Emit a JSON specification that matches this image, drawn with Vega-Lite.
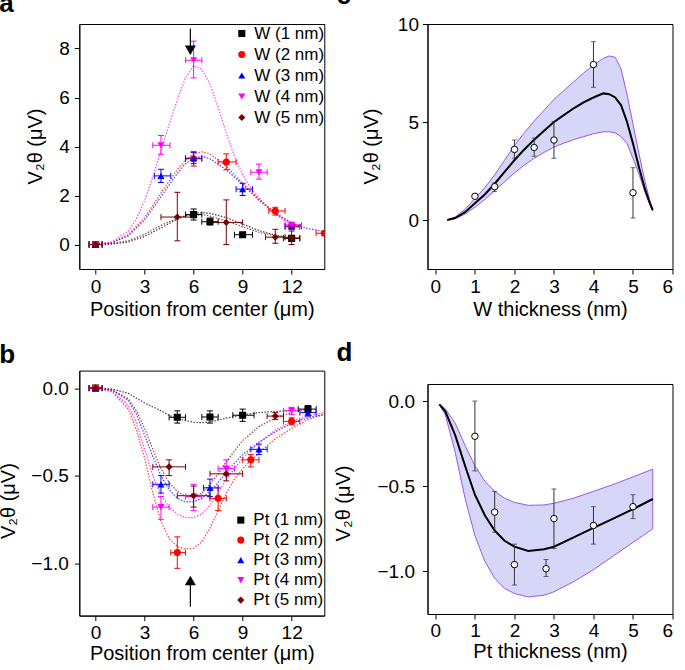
{
  "$schema": "https://vega.github.io/schema/vega-lite/v6.json",
  "padding": {"left": -2.7, "top": -18, "right": 5, "bottom": 5},
  "config": {
    "font": "Liberation Sans",
    "view": {"stroke": "black", "strokeWidth": 1},
    "axis": {"grid": false, "domain": true, "domainColor": "black", "domainWidth": 1, "tickColor": "black", "tickSize": 5, "tickWidth": 1, "labelFontSize": 19, "titleFontSize": 20, "labelColor": "black", "titleColor": "black", "titleFontWeight": "normal"},
    "title": {"fontSize": 26, "fontWeight": "bold", "anchor": "start", "frame": "group", "baseline": "alphabetic", "color": "black"},
    "legend": {"labelFontSize": 17, "labelColor": "black", "symbolSize": 50, "rowPadding": 3, "labelOffset": 4}
  },
  "datasets": {
    "aPts": [
      {"s": "W (1 nm)", "x": 0, "y": 0, "xlo": -0.4, "xhi": 0.4, "ylo": 0, "yhi": 0},
      {"s": "W (1 nm)", "x": 6, "y": 1.22, "xlo": 5.5, "xhi": 6.5, "ylo": 1.0, "yhi": 1.45},
      {"s": "W (1 nm)", "x": 7, "y": 0.93, "xlo": 6.5, "xhi": 7.5, "ylo": 0.8, "yhi": 1.08},
      {"s": "W (1 nm)", "x": 9, "y": 0.4, "xlo": 8.5, "xhi": 9.6, "ylo": 0.35, "yhi": 0.45},
      {"s": "W (1 nm)", "x": 12, "y": 0.25, "xlo": 11.5, "xhi": 12.5, "ylo": 0.2, "yhi": 0.3},
      {"s": "W (2 nm)", "x": 0, "y": 0, "xlo": -0.4, "xhi": 0.4, "ylo": 0, "yhi": 0},
      {"s": "W (2 nm)", "x": 6, "y": 3.5, "xlo": 5.5, "xhi": 6.5, "ylo": 3.2, "yhi": 3.8},
      {"s": "W (2 nm)", "x": 8, "y": 3.37, "xlo": 7.5, "xhi": 8.6, "ylo": 3.05, "yhi": 3.7},
      {"s": "W (2 nm)", "x": 11, "y": 1.37, "xlo": 10.6, "xhi": 11.6, "ylo": 1.2, "yhi": 1.52},
      {"s": "W (2 nm)", "x": 12, "y": 0.72, "xlo": 11.6, "xhi": 12.5, "ylo": 0.62, "yhi": 0.82},
      {"s": "W (2 nm)", "x": 14, "y": 0.46, "xlo": 13.5, "xhi": 14.5, "ylo": 0.4, "yhi": 0.52},
      {"s": "W (3 nm)", "x": 0, "y": 0, "xlo": -0.4, "xhi": 0.4, "ylo": 0, "yhi": 0},
      {"s": "W (3 nm)", "x": 4, "y": 2.8, "xlo": 3.6, "xhi": 4.6, "ylo": 2.53, "yhi": 3.07},
      {"s": "W (3 nm)", "x": 6, "y": 3.52, "xlo": 5.5, "xhi": 6.5, "ylo": 3.3, "yhi": 3.75},
      {"s": "W (3 nm)", "x": 9, "y": 2.26, "xlo": 8.6, "xhi": 9.6, "ylo": 2.0, "yhi": 2.5},
      {"s": "W (3 nm)", "x": 12, "y": 0.75, "xlo": 11.6, "xhi": 12.6, "ylo": 0.65, "yhi": 0.85},
      {"s": "W (4 nm)", "x": 0, "y": 0, "xlo": -0.4, "xhi": 0.4, "ylo": 0, "yhi": 0},
      {"s": "W (4 nm)", "x": 4, "y": 4.05, "xlo": 3.5, "xhi": 4.55, "ylo": 3.68, "yhi": 4.45},
      {"s": "W (4 nm)", "x": 6, "y": 7.52, "xlo": 5.5, "xhi": 6.5, "ylo": 6.8, "yhi": 8.3},
      {"s": "W (4 nm)", "x": 10, "y": 2.95, "xlo": 9.5, "xhi": 10.5, "ylo": 2.67, "yhi": 3.28},
      {"s": "W (4 nm)", "x": 12, "y": 0.8, "xlo": 11.6, "xhi": 12.6, "ylo": 0.7, "yhi": 0.9},
      {"s": "W (5 nm)", "x": 0, "y": 0, "xlo": -0.4, "xhi": 0.4, "ylo": 0, "yhi": 0},
      {"s": "W (5 nm)", "x": 5, "y": 1.12, "xlo": 4.0, "xhi": 6.0, "ylo": 0.15, "yhi": 2.13},
      {"s": "W (5 nm)", "x": 8, "y": 0.9, "xlo": 7.0, "xhi": 9.0, "ylo": 0.0, "yhi": 1.82},
      {"s": "W (5 nm)", "x": 11, "y": 0.3, "xlo": 10.4, "xhi": 11.6, "ylo": 0.05, "yhi": 0.62},
      {"s": "W (5 nm)", "x": 12, "y": 0.27, "xlo": 11.5, "xhi": 12.5, "ylo": 0.0, "yhi": 0.55}
    ],
    "aFit": [
      {"s": "W (1 nm)", "x": 0, "y": 0}, {"s": "W (1 nm)", "x": 1, "y": 0.02}, {"s": "W (1 nm)", "x": 2, "y": 0.1}, {"s": "W (1 nm)", "x": 3, "y": 0.33}, {"s": "W (1 nm)", "x": 4, "y": 0.68}, {"s": "W (1 nm)", "x": 5, "y": 1.03}, {"s": "W (1 nm)", "x": 5.5, "y": 1.18}, {"s": "W (1 nm)", "x": 6, "y": 1.27}, {"s": "W (1 nm)", "x": 6.5, "y": 1.3}, {"s": "W (1 nm)", "x": 7, "y": 1.27}, {"s": "W (1 nm)", "x": 8, "y": 1.1}, {"s": "W (1 nm)", "x": 9, "y": 0.83}, {"s": "W (1 nm)", "x": 10, "y": 0.57}, {"s": "W (1 nm)", "x": 11, "y": 0.38}, {"s": "W (1 nm)", "x": 12, "y": 0.26},
      {"s": "W (2 nm)", "x": 0, "y": 0}, {"s": "W (2 nm)", "x": 1, "y": 0.08}, {"s": "W (2 nm)", "x": 2, "y": 0.4}, {"s": "W (2 nm)", "x": 3, "y": 1.1}, {"s": "W (2 nm)", "x": 4, "y": 2.1}, {"s": "W (2 nm)", "x": 5, "y": 3.05}, {"s": "W (2 nm)", "x": 5.5, "y": 3.45}, {"s": "W (2 nm)", "x": 6, "y": 3.7}, {"s": "W (2 nm)", "x": 6.5, "y": 3.78}, {"s": "W (2 nm)", "x": 7, "y": 3.7}, {"s": "W (2 nm)", "x": 8, "y": 3.2}, {"s": "W (2 nm)", "x": 9, "y": 2.5}, {"s": "W (2 nm)", "x": 10, "y": 1.85}, {"s": "W (2 nm)", "x": 11, "y": 1.3}, {"s": "W (2 nm)", "x": 12, "y": 0.88}, {"s": "W (2 nm)", "x": 12.5, "y": 0.72},
      {"s": "W (3 nm)", "x": 0, "y": 0}, {"s": "W (3 nm)", "x": 1, "y": 0.07}, {"s": "W (3 nm)", "x": 2, "y": 0.35}, {"s": "W (3 nm)", "x": 3, "y": 1.0}, {"s": "W (3 nm)", "x": 4, "y": 1.95}, {"s": "W (3 nm)", "x": 5, "y": 2.9}, {"s": "W (3 nm)", "x": 5.5, "y": 3.3}, {"s": "W (3 nm)", "x": 6, "y": 3.52}, {"s": "W (3 nm)", "x": 6.5, "y": 3.6}, {"s": "W (3 nm)", "x": 7, "y": 3.5}, {"s": "W (3 nm)", "x": 8, "y": 3.05}, {"s": "W (3 nm)", "x": 9, "y": 2.45}, {"s": "W (3 nm)", "x": 10, "y": 1.8}, {"s": "W (3 nm)", "x": 11, "y": 1.25}, {"s": "W (3 nm)", "x": 12, "y": 0.88}, {"s": "W (3 nm)", "x": 13, "y": 0.65}, {"s": "W (3 nm)", "x": 14, "y": 0.52},
      {"s": "W (4 nm)", "x": 0, "y": 0}, {"s": "W (4 nm)", "x": 1, "y": 0.1}, {"s": "W (4 nm)", "x": 2, "y": 0.55}, {"s": "W (4 nm)", "x": 2.5, "y": 1.05}, {"s": "W (4 nm)", "x": 3, "y": 1.8}, {"s": "W (4 nm)", "x": 3.5, "y": 2.75}, {"s": "W (4 nm)", "x": 4, "y": 3.8}, {"s": "W (4 nm)", "x": 4.5, "y": 4.9}, {"s": "W (4 nm)", "x": 5, "y": 5.9}, {"s": "W (4 nm)", "x": 5.5, "y": 6.8}, {"s": "W (4 nm)", "x": 6, "y": 7.3}, {"s": "W (4 nm)", "x": 6.5, "y": 7.15}, {"s": "W (4 nm)", "x": 7, "y": 6.55}, {"s": "W (4 nm)", "x": 7.5, "y": 5.6}, {"s": "W (4 nm)", "x": 8, "y": 4.55}, {"s": "W (4 nm)", "x": 8.5, "y": 3.6}, {"s": "W (4 nm)", "x": 9, "y": 2.85}, {"s": "W (4 nm)", "x": 9.5, "y": 2.3}, {"s": "W (4 nm)", "x": 10, "y": 1.9}, {"s": "W (4 nm)", "x": 10.5, "y": 1.55}, {"s": "W (4 nm)", "x": 11, "y": 1.25}, {"s": "W (4 nm)", "x": 11.5, "y": 1.0}, {"s": "W (4 nm)", "x": 12, "y": 0.8},
      {"s": "W (5 nm)", "x": 0, "y": 0}, {"s": "W (5 nm)", "x": 1, "y": 0.03}, {"s": "W (5 nm)", "x": 2, "y": 0.15}, {"s": "W (5 nm)", "x": 3, "y": 0.42}, {"s": "W (5 nm)", "x": 4, "y": 0.78}, {"s": "W (5 nm)", "x": 5, "y": 1.07}, {"s": "W (5 nm)", "x": 5.5, "y": 1.17}, {"s": "W (5 nm)", "x": 6, "y": 1.22}, {"s": "W (5 nm)", "x": 6.5, "y": 1.22}, {"s": "W (5 nm)", "x": 7, "y": 1.16}, {"s": "W (5 nm)", "x": 8, "y": 0.96}, {"s": "W (5 nm)", "x": 9, "y": 0.72}, {"s": "W (5 nm)", "x": 10, "y": 0.5}, {"s": "W (5 nm)", "x": 11, "y": 0.35}, {"s": "W (5 nm)", "x": 12, "y": 0.26}
    ],
    "aArrow": [{"x": 5.8, "y": 8.82, "y2": 8.0, "hy": 7.93}],
    "bPts": [
      {"s": "Pt (1 nm)", "x": 0, "y": 0, "xlo": -0.4, "xhi": 0.4, "ylo": 0, "yhi": 0},
      {"s": "Pt (1 nm)", "x": 5, "y": -0.167, "xlo": 4.5, "xhi": 5.5, "ylo": -0.2, "yhi": -0.13},
      {"s": "Pt (1 nm)", "x": 7, "y": -0.165, "xlo": 6.5, "xhi": 7.5, "ylo": -0.2, "yhi": -0.13},
      {"s": "Pt (1 nm)", "x": 9, "y": -0.155, "xlo": 8.4, "xhi": 9.7, "ylo": -0.19, "yhi": -0.12},
      {"s": "Pt (1 nm)", "x": 13, "y": -0.12, "xlo": 12.4, "xhi": 13.5, "ylo": -0.14, "yhi": -0.1},
      {"s": "Pt (2 nm)", "x": 0, "y": 0, "xlo": -0.4, "xhi": 0.4, "ylo": 0, "yhi": 0},
      {"s": "Pt (2 nm)", "x": 5, "y": -0.94, "xlo": 4.6, "xhi": 5.5, "ylo": -1.03, "yhi": -0.85},
      {"s": "Pt (2 nm)", "x": 7.5, "y": -0.63, "xlo": 7.0, "xhi": 8.0, "ylo": -0.7, "yhi": -0.57},
      {"s": "Pt (2 nm)", "x": 9.5, "y": -0.41, "xlo": 9.0, "xhi": 10.0, "ylo": -0.45, "yhi": -0.38},
      {"s": "Pt (2 nm)", "x": 12, "y": -0.19, "xlo": 11.5, "xhi": 12.5, "ylo": -0.21, "yhi": -0.17},
      {"s": "Pt (3 nm)", "x": 0, "y": 0, "xlo": -0.4, "xhi": 0.4, "ylo": 0, "yhi": 0},
      {"s": "Pt (3 nm)", "x": 4, "y": -0.55, "xlo": 3.5, "xhi": 4.5, "ylo": -0.6, "yhi": -0.5},
      {"s": "Pt (3 nm)", "x": 7, "y": -0.57, "xlo": 6.6, "xhi": 7.5, "ylo": -0.62, "yhi": -0.52},
      {"s": "Pt (3 nm)", "x": 10, "y": -0.35, "xlo": 9.5, "xhi": 10.5, "ylo": -0.38, "yhi": -0.32},
      {"s": "Pt (3 nm)", "x": 13, "y": -0.14, "xlo": 12.5, "xhi": 13.5, "ylo": -0.16, "yhi": -0.12},
      {"s": "Pt (4 nm)", "x": 0, "y": 0, "xlo": -0.4, "xhi": 0.4, "ylo": 0, "yhi": 0},
      {"s": "Pt (4 nm)", "x": 4, "y": -0.68, "xlo": 3.5, "xhi": 4.5, "ylo": -0.75, "yhi": -0.62},
      {"s": "Pt (4 nm)", "x": 6, "y": -0.62, "xlo": 5.5, "xhi": 6.5, "ylo": -0.7, "yhi": -0.55},
      {"s": "Pt (4 nm)", "x": 8, "y": -0.46, "xlo": 7.5, "xhi": 8.5, "ylo": -0.5, "yhi": -0.41},
      {"s": "Pt (4 nm)", "x": 12, "y": -0.13, "xlo": 11.5, "xhi": 12.5, "ylo": -0.15, "yhi": -0.11},
      {"s": "Pt (5 nm)", "x": 0, "y": 0, "xlo": -0.4, "xhi": 0.4, "ylo": 0, "yhi": 0},
      {"s": "Pt (5 nm)", "x": 4.5, "y": -0.45, "xlo": 3.5, "xhi": 5.5, "ylo": -0.5, "yhi": -0.41},
      {"s": "Pt (5 nm)", "x": 6, "y": -0.615, "xlo": 5.0, "xhi": 7.0, "ylo": -0.68, "yhi": -0.56},
      {"s": "Pt (5 nm)", "x": 8, "y": -0.49, "xlo": 7.0, "xhi": 9.0, "ylo": -0.53, "yhi": -0.45},
      {"s": "Pt (5 nm)", "x": 11, "y": -0.16, "xlo": 10.5, "xhi": 11.5, "ylo": -0.18, "yhi": -0.14}
    ],
    "bFit": [
      {"s": "Pt (1 nm)", "x": 0, "y": 0}, {"s": "Pt (1 nm)", "x": 1, "y": -0.005}, {"s": "Pt (1 nm)", "x": 2, "y": -0.03}, {"s": "Pt (1 nm)", "x": 3, "y": -0.085}, {"s": "Pt (1 nm)", "x": 4, "y": -0.13}, {"s": "Pt (1 nm)", "x": 4.5, "y": -0.155}, {"s": "Pt (1 nm)", "x": 5, "y": -0.175}, {"s": "Pt (1 nm)", "x": 6, "y": -0.195}, {"s": "Pt (1 nm)", "x": 6.5, "y": -0.198}, {"s": "Pt (1 nm)", "x": 7, "y": -0.193}, {"s": "Pt (1 nm)", "x": 8, "y": -0.172}, {"s": "Pt (1 nm)", "x": 9, "y": -0.152}, {"s": "Pt (1 nm)", "x": 10, "y": -0.14}, {"s": "Pt (1 nm)", "x": 11, "y": -0.133}, {"s": "Pt (1 nm)", "x": 12, "y": -0.128}, {"s": "Pt (1 nm)", "x": 13, "y": -0.125},
      {"s": "Pt (2 nm)", "x": 0, "y": 0}, {"s": "Pt (2 nm)", "x": 1, "y": -0.02}, {"s": "Pt (2 nm)", "x": 2, "y": -0.12}, {"s": "Pt (2 nm)", "x": 2.5, "y": -0.24}, {"s": "Pt (2 nm)", "x": 3, "y": -0.4}, {"s": "Pt (2 nm)", "x": 3.5, "y": -0.6}, {"s": "Pt (2 nm)", "x": 4, "y": -0.76}, {"s": "Pt (2 nm)", "x": 4.5, "y": -0.86}, {"s": "Pt (2 nm)", "x": 5, "y": -0.905}, {"s": "Pt (2 nm)", "x": 5.5, "y": -0.92}, {"s": "Pt (2 nm)", "x": 6, "y": -0.915}, {"s": "Pt (2 nm)", "x": 6.5, "y": -0.88}, {"s": "Pt (2 nm)", "x": 7, "y": -0.8}, {"s": "Pt (2 nm)", "x": 7.5, "y": -0.7}, {"s": "Pt (2 nm)", "x": 8, "y": -0.6}, {"s": "Pt (2 nm)", "x": 8.5, "y": -0.52}, {"s": "Pt (2 nm)", "x": 9, "y": -0.46}, {"s": "Pt (2 nm)", "x": 10, "y": -0.37}, {"s": "Pt (2 nm)", "x": 11, "y": -0.29}, {"s": "Pt (2 nm)", "x": 12, "y": -0.23}, {"s": "Pt (2 nm)", "x": 13, "y": -0.18}, {"s": "Pt (2 nm)", "x": 14, "y": -0.15},
      {"s": "Pt (3 nm)", "x": 0, "y": 0}, {"s": "Pt (3 nm)", "x": 1, "y": -0.01}, {"s": "Pt (3 nm)", "x": 2, "y": -0.07}, {"s": "Pt (3 nm)", "x": 2.5, "y": -0.15}, {"s": "Pt (3 nm)", "x": 3, "y": -0.27}, {"s": "Pt (3 nm)", "x": 3.5, "y": -0.39}, {"s": "Pt (3 nm)", "x": 4, "y": -0.5}, {"s": "Pt (3 nm)", "x": 4.5, "y": -0.58}, {"s": "Pt (3 nm)", "x": 5, "y": -0.63}, {"s": "Pt (3 nm)", "x": 5.5, "y": -0.65}, {"s": "Pt (3 nm)", "x": 6, "y": -0.65}, {"s": "Pt (3 nm)", "x": 6.5, "y": -0.63}, {"s": "Pt (3 nm)", "x": 7, "y": -0.59}, {"s": "Pt (3 nm)", "x": 7.5, "y": -0.54}, {"s": "Pt (3 nm)", "x": 8, "y": -0.48}, {"s": "Pt (3 nm)", "x": 9, "y": -0.38}, {"s": "Pt (3 nm)", "x": 10, "y": -0.31}, {"s": "Pt (3 nm)", "x": 11, "y": -0.25}, {"s": "Pt (3 nm)", "x": 12, "y": -0.2}, {"s": "Pt (3 nm)", "x": 13, "y": -0.17}, {"s": "Pt (3 nm)", "x": 14, "y": -0.15},
      {"s": "Pt (4 nm)", "x": 0, "y": 0}, {"s": "Pt (4 nm)", "x": 1, "y": -0.015}, {"s": "Pt (4 nm)", "x": 2, "y": -0.1}, {"s": "Pt (4 nm)", "x": 2.5, "y": -0.2}, {"s": "Pt (4 nm)", "x": 3, "y": -0.35}, {"s": "Pt (4 nm)", "x": 3.5, "y": -0.5}, {"s": "Pt (4 nm)", "x": 4, "y": -0.61}, {"s": "Pt (4 nm)", "x": 4.5, "y": -0.68}, {"s": "Pt (4 nm)", "x": 5, "y": -0.72}, {"s": "Pt (4 nm)", "x": 5.5, "y": -0.74}, {"s": "Pt (4 nm)", "x": 6, "y": -0.74}, {"s": "Pt (4 nm)", "x": 6.5, "y": -0.72}, {"s": "Pt (4 nm)", "x": 7, "y": -0.67}, {"s": "Pt (4 nm)", "x": 7.5, "y": -0.6}, {"s": "Pt (4 nm)", "x": 8, "y": -0.52}, {"s": "Pt (4 nm)", "x": 9, "y": -0.4}, {"s": "Pt (4 nm)", "x": 10, "y": -0.31}, {"s": "Pt (4 nm)", "x": 11, "y": -0.24}, {"s": "Pt (4 nm)", "x": 12, "y": -0.19}, {"s": "Pt (4 nm)", "x": 13, "y": -0.16}, {"s": "Pt (4 nm)", "x": 14, "y": -0.14},
      {"s": "Pt (5 nm)", "x": 0, "y": 0}, {"s": "Pt (5 nm)", "x": 1, "y": -0.01}, {"s": "Pt (5 nm)", "x": 2, "y": -0.06}, {"s": "Pt (5 nm)", "x": 2.5, "y": -0.13}, {"s": "Pt (5 nm)", "x": 3, "y": -0.23}, {"s": "Pt (5 nm)", "x": 3.5, "y": -0.35}, {"s": "Pt (5 nm)", "x": 4, "y": -0.46}, {"s": "Pt (5 nm)", "x": 4.5, "y": -0.54}, {"s": "Pt (5 nm)", "x": 5, "y": -0.59}, {"s": "Pt (5 nm)", "x": 5.5, "y": -0.62}, {"s": "Pt (5 nm)", "x": 6, "y": -0.62}, {"s": "Pt (5 nm)", "x": 6.5, "y": -0.6}, {"s": "Pt (5 nm)", "x": 7, "y": -0.55}, {"s": "Pt (5 nm)", "x": 7.5, "y": -0.49}, {"s": "Pt (5 nm)", "x": 8, "y": -0.42}, {"s": "Pt (5 nm)", "x": 9, "y": -0.3}, {"s": "Pt (5 nm)", "x": 10, "y": -0.22}, {"s": "Pt (5 nm)", "x": 11, "y": -0.17}, {"s": "Pt (5 nm)", "x": 12, "y": -0.14}
    ],
    "bArrow": [{"x": 5.8, "y": -1.25, "y2": -1.12, "hy": -1.1}],
    "cPts": [
      {"x": 1, "y": 1.21, "ylo": 1.21, "yhi": 1.21},
      {"x": 1.5, "y": 1.7, "ylo": 1.45, "yhi": 1.9},
      {"x": 2, "y": 3.6, "ylo": 3.15, "yhi": 4.08},
      {"x": 2.5, "y": 3.7, "ylo": 3.25, "yhi": 4.18},
      {"x": 3, "y": 4.08, "ylo": 3.15, "yhi": 5.02},
      {"x": 4, "y": 7.93, "ylo": 6.77, "yhi": 9.1},
      {"x": 5, "y": 1.39, "ylo": 0.1, "yhi": 2.67}
    ],
    "cFit": [
      {"x": 0.3, "mid": 0, "lo": 0, "hi": 0},
      {"x": 0.5, "mid": 0.1, "lo": 0.07, "hi": 0.15},
      {"x": 0.75, "mid": 0.4, "lo": 0.3, "hi": 0.55},
      {"x": 1.0, "mid": 0.85, "lo": 0.65, "hi": 1.1},
      {"x": 1.25, "mid": 1.3, "lo": 1.05, "hi": 1.65},
      {"x": 1.5, "mid": 1.85, "lo": 1.5, "hi": 2.3},
      {"x": 1.75, "mid": 2.45, "lo": 1.95, "hi": 3.05},
      {"x": 2.0, "mid": 3.05, "lo": 2.4, "hi": 3.8},
      {"x": 2.25, "mid": 3.6, "lo": 2.8, "hi": 4.45},
      {"x": 2.5, "mid": 4.1, "lo": 3.15, "hi": 5.05},
      {"x": 2.75, "mid": 4.55, "lo": 3.45, "hi": 5.6},
      {"x": 3.0, "mid": 5.0, "lo": 3.72, "hi": 6.15},
      {"x": 3.25, "mid": 5.35, "lo": 3.92, "hi": 6.6},
      {"x": 3.5, "mid": 5.7, "lo": 4.1, "hi": 7.05},
      {"x": 3.75, "mid": 6.0, "lo": 4.25, "hi": 7.5},
      {"x": 4.0, "mid": 6.25, "lo": 4.4, "hi": 7.9},
      {"x": 4.25, "mid": 6.46, "lo": 4.5, "hi": 8.25},
      {"x": 4.4, "mid": 6.42, "lo": 4.5, "hi": 8.37},
      {"x": 4.55, "mid": 6.25, "lo": 4.45, "hi": 8.3},
      {"x": 4.7, "mid": 5.85, "lo": 4.25, "hi": 7.7},
      {"x": 4.85, "mid": 5.0, "lo": 3.9, "hi": 6.4},
      {"x": 5.0, "mid": 3.9, "lo": 3.15, "hi": 4.9},
      {"x": 5.15, "mid": 2.7, "lo": 2.35, "hi": 3.4},
      {"x": 5.3, "mid": 1.6, "lo": 1.45, "hi": 2.0},
      {"x": 5.42, "mid": 0.9, "lo": 0.82, "hi": 1.05},
      {"x": 5.5, "mid": 0.5, "lo": 0.45, "hi": 0.55}
    ],
    "dPts": [
      {"x": 1, "y": -0.207, "ylo": -0.41, "yhi": 0.0},
      {"x": 1.5, "y": -0.652, "ylo": -0.77, "yhi": -0.53},
      {"x": 2, "y": -0.96, "ylo": -1.08, "yhi": -0.84},
      {"x": 2.8, "y": -0.984, "ylo": -1.03, "yhi": -0.93},
      {"x": 3, "y": -0.69, "ylo": -0.866, "yhi": -0.516},
      {"x": 4, "y": -0.73, "ylo": -0.84, "yhi": -0.62},
      {"x": 5, "y": -0.62, "ylo": -0.69, "yhi": -0.55}
    ],
    "dFit": [
      {"x": 0.1, "mid": -0.02, "lo": -0.02, "hi": -0.02},
      {"x": 0.25, "mid": -0.06, "lo": -0.08, "hi": -0.045},
      {"x": 0.5, "mid": -0.2, "lo": -0.3, "hi": -0.13},
      {"x": 0.75, "mid": -0.38, "lo": -0.57, "hi": -0.26},
      {"x": 1.0, "mid": -0.55, "lo": -0.79, "hi": -0.38},
      {"x": 1.25, "mid": -0.67, "lo": -0.94, "hi": -0.47},
      {"x": 1.5, "mid": -0.76, "lo": -1.04, "hi": -0.53},
      {"x": 1.75, "mid": -0.82, "lo": -1.1, "hi": -0.57},
      {"x": 2.0, "mid": -0.855, "lo": -1.13, "hi": -0.595},
      {"x": 2.35, "mid": -0.88, "lo": -1.15, "hi": -0.612},
      {"x": 2.75, "mid": -0.87, "lo": -1.14, "hi": -0.61},
      {"x": 3.0, "mid": -0.855, "lo": -1.12, "hi": -0.6},
      {"x": 3.5, "mid": -0.8, "lo": -1.06, "hi": -0.57},
      {"x": 4.0, "mid": -0.745, "lo": -0.99, "hi": -0.53},
      {"x": 4.5, "mid": -0.69, "lo": -0.91, "hi": -0.49},
      {"x": 5.0, "mid": -0.635, "lo": -0.83, "hi": -0.445},
      {"x": 5.5, "mid": -0.575, "lo": -0.75, "hi": -0.4}
    ]
  },
  "resolve": {"scale": {"color": "independent", "shape": "independent", "stroke": "independent"}, "legend": {"color": "independent", "shape": "independent", "stroke": "independent"}},
  "bounds": "full",
  "spacing": 7.2,
  "hconcat": [
    {
      "bounds": "flush",
      "spacing": 101.6,
      "resolve": {"scale": {"color": "independent", "shape": "independent", "stroke": "independent"}, "legend": {"color": "independent", "shape": "independent", "stroke": "independent"}},
      "vconcat": [
        {
          "width": 245, "height": 245,
          "title": {"text": "a", "dx": -80, "offset": 7},
          "layer": [
            {
              "data": {"name": "aFit"},
              "mark": {"type": "line", "strokeDash": [1.5, 1.5], "strokeWidth": 1.2, "opacity": 0.75, "clip": true},
              "encoding": {
                "x": {"field": "x", "type": "quantitative", "title": "Position from center (μm)", "scale": {"domain": [-1, 14], "nice": false, "zero": false}, "axis": {"values": [0, 3, 6, 9, 12], "labelPadding": 3, "titlePadding": 3}},
                "y": {"field": "y", "type": "quantitative", "title": "V₂θ (μV)", "scale": {"domain": [-1, 9], "nice": false, "zero": false}, "axis": {"values": [0, 2, 4, 6, 8], "labelPadding": 5, "titleX": -34, "titleY": 122}},
                "stroke": {"field": "s", "type": "nominal", "scale": {"domain": ["W (5 nm)", "W (4 nm)", "W (3 nm)", "W (2 nm)", "W (1 nm)"], "range": ["#7a0000", "#ff00ff", "#0000ff", "#ff0000", "#000000"]}, "legend": null}
              }
            },
            {
              "data": {"name": "aPts"},
              "mark": {"type": "rule", "strokeWidth": 1, "clip": true},
              "encoding": {
                "x": {"field": "x", "type": "quantitative", "title": "Position from center (μm)"},
                "y": {"field": "ylo", "type": "quantitative", "title": "V₂θ (μV)"},
                "y2": {"field": "yhi"},
                "stroke": {"field": "s", "type": "nominal", "legend": null}
              }
            },
            {
              "data": {"name": "aPts"},
              "mark": {"type": "rule", "strokeWidth": 1, "clip": true},
              "encoding": {
                "x": {"field": "xlo", "type": "quantitative", "title": "Position from center (μm)"},
                "x2": {"field": "xhi"},
                "y": {"field": "y", "type": "quantitative", "title": "V₂θ (μV)"},
                "stroke": {"field": "s", "type": "nominal", "legend": null}
              }
            },
            {
              "data": {"name": "aPts"},
              "transform": [{"fold": ["ylo", "yhi"], "as": ["k", "v"]}],
              "mark": {"type": "point", "shape": "stroke", "size": 36, "strokeWidth": 1, "filled": false, "opacity": 1, "clip": true},
              "encoding": {
                "x": {"field": "x", "type": "quantitative", "title": "Position from center (μm)"},
                "y": {"field": "v", "type": "quantitative", "title": "V₂θ (μV)"},
                "stroke": {"field": "s", "type": "nominal", "legend": null}
              }
            },
            {
              "data": {"name": "aPts"},
              "transform": [{"fold": ["xlo", "xhi"], "as": ["k", "v"]}],
              "mark": {"type": "point", "shape": "M0,-1L0,1", "size": 36, "strokeWidth": 1, "filled": false, "opacity": 1, "clip": true},
              "encoding": {
                "x": {"field": "v", "type": "quantitative", "title": "Position from center (μm)"},
                "y": {"field": "y", "type": "quantitative", "title": "V₂θ (μV)"},
                "stroke": {"field": "s", "type": "nominal", "legend": null}
              }
            },
            {
              "data": {"name": "aPts"},
              "mark": {"type": "point", "filled": true, "size": 50, "opacity": 1, "clip": true},
              "encoding": {
                "x": {"field": "x", "type": "quantitative", "title": "Position from center (μm)"},
                "y": {"field": "y", "type": "quantitative", "title": "V₂θ (μV)"},
                "color": {"field": "s", "type": "nominal", "title": null, "scale": {"domain": ["W (1 nm)", "W (2 nm)", "W (3 nm)", "W (4 nm)", "W (5 nm)"], "range": ["#000000", "#ff0000", "#0000ff", "#ff00ff", "#7a0000"]}, "legend": {"orient": "none", "legendX": 154, "legendY": 1, "rowPadding": 3}},
                "shape": {"field": "s", "type": "nominal", "title": null, "scale": {"domain": ["W (1 nm)", "W (2 nm)", "W (3 nm)", "W (4 nm)", "W (5 nm)"], "range": ["square", "circle", "triangle-up", "triangle-down", "diamond"]}, "legend": {"orient": "none", "legendX": 154, "legendY": 1, "rowPadding": 3}}
              }
            },
            {
              "data": {"name": "aArrow"},
              "mark": {"type": "rule", "color": "black", "strokeWidth": 1.2},
              "encoding": {
                "x": {"field": "x", "type": "quantitative", "title": "Position from center (μm)"},
                "y": {"field": "y", "type": "quantitative", "title": "V₂θ (μV)"},
                "y2": {"field": "y2"}
              }
            },
            {
              "data": {"name": "aArrow"},
              "mark": {"type": "point", "shape": "triangle-down", "filled": true, "color": "black", "size": 120, "opacity": 1},
              "encoding": {
                "x": {"field": "x", "type": "quantitative", "title": "Position from center (μm)"},
                "y": {"field": "hy", "type": "quantitative", "title": "V₂θ (μV)"}
              }
            },
            {"mark": {"type": "rule", "color": "black", "strokeWidth": 1}, "encoding": {"y": {"datum": 9, "type": "quantitative", "title": "V₂θ (μV)"}}},
            {"mark": {"type": "rule", "color": "black", "strokeWidth": 1}, "encoding": {"x": {"datum": 14, "type": "quantitative", "title": "Position from center (μm)"}}}
          ]
        },
        {
          "width": 245, "height": 245,
          "title": {"text": "b", "dx": -80, "offset": 3},
          "layer": [
            {
              "data": {"name": "bFit"},
              "mark": {"type": "line", "strokeDash": [1.5, 1.5], "strokeWidth": 1.2, "opacity": 0.75, "clip": true},
              "encoding": {
                "x": {"field": "x", "type": "quantitative", "title": "Position from center (μm)", "scale": {"domain": [-1, 14], "nice": false, "zero": false}, "axis": {"values": [0, 3, 6, 9, 12], "labelPadding": 3, "titlePadding": 1}},
                "y": {"field": "y", "type": "quantitative", "title": "V₂θ (μV)", "scale": {"domain": [-1.3, 0.1], "nice": false, "zero": false}, "axis": {"values": [-1, -0.5, 0], "format": ".1f", "labelPadding": 6, "titleX": -61, "titleY": 130}},
                "stroke": {"field": "s", "type": "nominal", "scale": {"domain": ["Pt (5 nm)", "Pt (4 nm)", "Pt (3 nm)", "Pt (2 nm)", "Pt (1 nm)"], "range": ["#7a0000", "#ff00ff", "#0000ff", "#ff0000", "#000000"]}, "legend": null}
              }
            },
            {
              "data": {"name": "bPts"},
              "mark": {"type": "rule", "strokeWidth": 1, "clip": true},
              "encoding": {
                "x": {"field": "x", "type": "quantitative", "title": "Position from center (μm)"},
                "y": {"field": "ylo", "type": "quantitative", "title": "V₂θ (μV)"},
                "y2": {"field": "yhi"},
                "stroke": {"field": "s", "type": "nominal", "legend": null}
              }
            },
            {
              "data": {"name": "bPts"},
              "mark": {"type": "rule", "strokeWidth": 1, "clip": true},
              "encoding": {
                "x": {"field": "xlo", "type": "quantitative", "title": "Position from center (μm)"},
                "x2": {"field": "xhi"},
                "y": {"field": "y", "type": "quantitative", "title": "V₂θ (μV)"},
                "stroke": {"field": "s", "type": "nominal", "legend": null}
              }
            },
            {
              "data": {"name": "bPts"},
              "transform": [{"fold": ["ylo", "yhi"], "as": ["k", "v"]}],
              "mark": {"type": "point", "shape": "stroke", "size": 36, "strokeWidth": 1, "filled": false, "opacity": 1, "clip": true},
              "encoding": {
                "x": {"field": "x", "type": "quantitative", "title": "Position from center (μm)"},
                "y": {"field": "v", "type": "quantitative", "title": "V₂θ (μV)"},
                "stroke": {"field": "s", "type": "nominal", "legend": null}
              }
            },
            {
              "data": {"name": "bPts"},
              "transform": [{"fold": ["xlo", "xhi"], "as": ["k", "v"]}],
              "mark": {"type": "point", "shape": "M0,-1L0,1", "size": 36, "strokeWidth": 1, "filled": false, "opacity": 1, "clip": true},
              "encoding": {
                "x": {"field": "v", "type": "quantitative", "title": "Position from center (μm)"},
                "y": {"field": "y", "type": "quantitative", "title": "V₂θ (μV)"},
                "stroke": {"field": "s", "type": "nominal", "legend": null}
              }
            },
            {
              "data": {"name": "bPts"},
              "mark": {"type": "point", "filled": true, "size": 50, "opacity": 1, "clip": true},
              "encoding": {
                "x": {"field": "x", "type": "quantitative", "title": "Position from center (μm)"},
                "y": {"field": "y", "type": "quantitative", "title": "V₂θ (μV)"},
                "color": {"field": "s", "type": "nominal", "title": null, "scale": {"domain": ["Pt (1 nm)", "Pt (2 nm)", "Pt (3 nm)", "Pt (4 nm)", "Pt (5 nm)"], "range": ["#000000", "#ff0000", "#0000ff", "#ff00ff", "#7a0000"]}, "legend": {"orient": "none", "legendX": 153, "legendY": 141, "rowPadding": 2}},
                "shape": {"field": "s", "type": "nominal", "title": null, "scale": {"domain": ["Pt (1 nm)", "Pt (2 nm)", "Pt (3 nm)", "Pt (4 nm)", "Pt (5 nm)"], "range": ["square", "circle", "triangle-up", "triangle-down", "diamond"]}, "legend": {"orient": "none", "legendX": 153, "legendY": 141, "rowPadding": 2}}
              }
            },
            {
              "data": {"name": "bArrow"},
              "mark": {"type": "rule", "color": "black", "strokeWidth": 1.2},
              "encoding": {
                "x": {"field": "x", "type": "quantitative", "title": "Position from center (μm)"},
                "y": {"field": "y", "type": "quantitative", "title": "V₂θ (μV)"},
                "y2": {"field": "y2"}
              }
            },
            {
              "data": {"name": "bArrow"},
              "mark": {"type": "point", "shape": "triangle-up", "filled": true, "color": "black", "size": 120, "opacity": 1},
              "encoding": {
                "x": {"field": "x", "type": "quantitative", "title": "Position from center (μm)"},
                "y": {"field": "hy", "type": "quantitative", "title": "V₂θ (μV)"}
              }
            },
            {"mark": {"type": "rule", "color": "black", "strokeWidth": 1}, "encoding": {"y": {"datum": 0.1, "type": "quantitative", "title": "V₂θ (μV)"}}},
            {"mark": {"type": "rule", "color": "black", "strokeWidth": 1}, "encoding": {"x": {"datum": 14, "type": "quantitative", "title": "Position from center (μm)"}}}
          ]
        }
      ]
    },
    {
      "bounds": "flush",
      "spacing": 115,
      "vconcat": [
        {
          "width": 245, "height": 245,
          "title": {"text": "c", "dx": -91, "offset": 6},
          "layer": [
            {
              "data": {"name": "cFit"},
              "mark": {"type": "area", "color": "#d6d6f8", "opacity": 1},
              "encoding": {
                "x": {"field": "x", "type": "quantitative", "title": "W thickness (nm)", "scale": {"domain": [-0.2, 6], "nice": false, "zero": false}, "axis": {"values": [0, 1, 2, 3, 4, 5, 6], "labelPadding": 3, "titlePadding": 3}},
                "y": {"field": "lo", "type": "quantitative", "title": "V₂θ (μV)", "scale": {"domain": [-2.5, 10], "nice": false, "zero": false}, "axis": {"values": [0, 5, 10], "labelPadding": 4, "titleX": -46, "titleY": 122}},
                "y2": {"field": "hi"}
              }
            },
            {
              "data": {"name": "cFit"},
              "mark": {"type": "line", "color": "#9b55e8", "strokeWidth": 1},
              "encoding": {
                "x": {"field": "x", "type": "quantitative", "title": "W thickness (nm)"},
                "y": {"field": "lo", "type": "quantitative", "title": "V₂θ (μV)"}
              }
            },
            {
              "data": {"name": "cFit"},
              "mark": {"type": "line", "color": "#9b55e8", "strokeWidth": 1},
              "encoding": {
                "x": {"field": "x", "type": "quantitative", "title": "W thickness (nm)"},
                "y": {"field": "hi", "type": "quantitative", "title": "V₂θ (μV)"}
              }
            },
            {
              "data": {"name": "cFit"},
              "mark": {"type": "line", "color": "black", "strokeWidth": 2},
              "encoding": {
                "x": {"field": "x", "type": "quantitative", "title": "W thickness (nm)"},
                "y": {"field": "mid", "type": "quantitative", "title": "V₂θ (μV)"}
              }
            },
            {
              "data": {"name": "cPts"},
              "mark": {"type": "errorbar", "ticks": true, "size": 5, "thickness": 1, "color": "#333333"},
              "encoding": {
                "x": {"field": "x", "type": "quantitative", "title": "W thickness (nm)"},
                "y": {"field": "ylo", "type": "quantitative", "title": "V₂θ (μV)"},
                "y2": {"field": "yhi"}
              }
            },
            {
              "data": {"name": "cPts"},
              "mark": {"type": "point", "filled": true, "fill": "white", "stroke": "black", "strokeWidth": 1, "size": 42, "opacity": 1},
              "encoding": {
                "x": {"field": "x", "type": "quantitative", "title": "W thickness (nm)"},
                "y": {"field": "y", "type": "quantitative", "title": "V₂θ (μV)"}
              }
            },
            {"mark": {"type": "rule", "color": "black", "strokeWidth": 1}, "encoding": {"y": {"datum": 10, "type": "quantitative", "title": "V₂θ (μV)"}}},
            {"mark": {"type": "rule", "color": "black", "strokeWidth": 1}, "encoding": {"x": {"datum": 6, "type": "quantitative", "title": "W thickness (nm)"}}}
          ]
        },
        {
          "width": 245, "height": 230,
          "title": {"text": "d", "dx": -91, "offset": 18},
          "layer": [
            {
              "data": {"name": "dFit"},
              "mark": {"type": "area", "color": "#d6d6f8", "opacity": 1},
              "encoding": {
                "x": {"field": "x", "type": "quantitative", "title": "Pt thickness (nm)", "scale": {"domain": [-0.2, 6], "nice": false, "zero": false}, "axis": {"values": [0, 1, 2, 3, 4, 5, 6], "labelPadding": 3, "titlePadding": 1}},
                "y": {"field": "lo", "type": "quantitative", "title": "V₂θ (μV)", "scale": {"domain": [-1.25, 0.1], "nice": false, "zero": false}, "axis": {"values": [-1, -0.5, 0], "format": ".1f", "labelPadding": 8, "titleX": -74, "titleY": 119}},
                "y2": {"field": "hi"}
              }
            },
            {
              "data": {"name": "dFit"},
              "mark": {"type": "line", "color": "#9b55e8", "strokeWidth": 1},
              "encoding": {
                "x": {"field": "x", "type": "quantitative", "title": "Pt thickness (nm)"},
                "y": {"field": "lo", "type": "quantitative", "title": "V₂θ (μV)"}
              }
            },
            {
              "data": {"name": "dFit"},
              "mark": {"type": "line", "color": "#9b55e8", "strokeWidth": 1},
              "encoding": {
                "x": {"field": "x", "type": "quantitative", "title": "Pt thickness (nm)"},
                "y": {"field": "hi", "type": "quantitative", "title": "V₂θ (μV)"}
              }
            },
            {
              "data": {"name": "dFit"},
              "transform": [{"filter": "datum.x === 5.5"}],
              "mark": {"type": "rule", "color": "#9b55e8", "strokeWidth": 1},
              "encoding": {
                "x": {"field": "x", "type": "quantitative", "title": "Pt thickness (nm)"},
                "y": {"field": "lo", "type": "quantitative", "title": "V₂θ (μV)"},
                "y2": {"field": "hi"}
              }
            },
            {
              "data": {"name": "dFit"},
              "mark": {"type": "line", "color": "black", "strokeWidth": 2},
              "encoding": {
                "x": {"field": "x", "type": "quantitative", "title": "Pt thickness (nm)"},
                "y": {"field": "mid", "type": "quantitative", "title": "V₂θ (μV)"}
              }
            },
            {
              "data": {"name": "dPts"},
              "mark": {"type": "errorbar", "ticks": true, "size": 5, "thickness": 1, "color": "#333333"},
              "encoding": {
                "x": {"field": "x", "type": "quantitative", "title": "Pt thickness (nm)"},
                "y": {"field": "ylo", "type": "quantitative", "title": "V₂θ (μV)"},
                "y2": {"field": "yhi"}
              }
            },
            {
              "data": {"name": "dPts"},
              "mark": {"type": "point", "filled": true, "fill": "white", "stroke": "black", "strokeWidth": 1, "size": 42, "opacity": 1},
              "encoding": {
                "x": {"field": "x", "type": "quantitative", "title": "Pt thickness (nm)"},
                "y": {"field": "y", "type": "quantitative", "title": "V₂θ (μV)"}
              }
            },
            {"mark": {"type": "rule", "color": "black", "strokeWidth": 1}, "encoding": {"y": {"datum": 0.1, "type": "quantitative", "title": "V₂θ (μV)"}}},
            {"mark": {"type": "rule", "color": "black", "strokeWidth": 1}, "encoding": {"x": {"datum": 6, "type": "quantitative", "title": "Pt thickness (nm)"}}}
          ]
        }
      ]
    }
  ]
}
